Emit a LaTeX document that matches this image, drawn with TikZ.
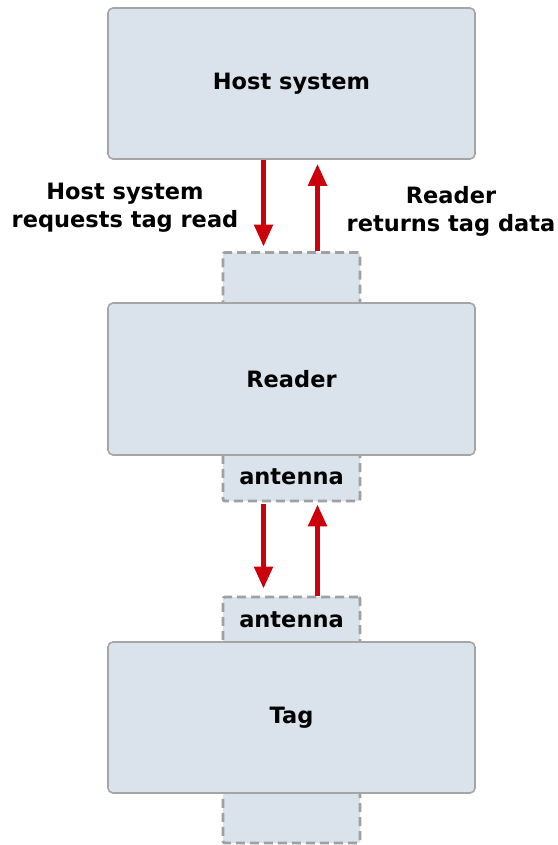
\documentclass[tikz,border=0pt]{standalone}
\usepackage{fontspec}
\setmainfont{DejaVu Sans}
\usetikzlibrary{arrows.meta}
\definecolor{boxfill}{RGB}{218,227,236}
\definecolor{boxline}{RGB}{165,165,165}
\definecolor{dashline}{RGB}{160,160,160}
\definecolor{arrred}{RGB}{204,0,10}
\begin{document}
\begin{tikzpicture}[x=1pt,y=-1pt,
  mainbox/.style={draw=boxline,line width=1.6pt,fill=boxfill,rounded corners=5pt,
    minimum width=367pt,minimum height=151pt,inner sep=0pt,
    font=\fontsize{22.5}{28}\selectfont\bfseries},
  dashbox/.style={draw=dashline,line width=2.8pt,fill=boxfill,dash pattern=on 9pt off 5pt,
    rounded corners=2pt,minimum width=137pt,inner sep=0pt},
  lbl/.style={inner sep=0pt,align=center,font=\fontsize{22.5}{28}\selectfont\bfseries},
  arr/.style={draw=arrred,line width=5pt,-{Triangle[width=18pt,length=22pt]}}]
\useasboundingbox (0,0) rectangle (557,845);
% dashed antenna boxes (behind)
\node[dashbox,minimum height=68pt] (rtop) at (291.5,286.5) {};
\node[dashbox,minimum height=66pt] (rant) at (291.5,468) {};
\node[dashbox,minimum height=66pt] (tant) at (291.5,630) {};
\node[dashbox,minimum height=64pt] (tbot) at (291.5,811) {};
% main boxes
\node[mainbox] (host) at (291.5,83.5) {Host system};
\node[mainbox,minimum height=152pt] (reader) at (291.5,379) {Reader};
\node[mainbox] (tag) at (291.5,717.5) {Tag};
% antenna labels
\node[lbl] (rantl) at (291.5,477) {antenna};
\node[lbl] (tantl) at (291.5,620) {antenna};
% arrows host <-> reader
\draw[arr,shorten >=4.5pt] ([xshift=-28pt]host.south) -- ([xshift=-28pt]rtop.north);
\draw[arr,shorten >=4pt] ([xshift=26pt]rtop.north) -- ([xshift=26pt]host.south);
% arrows reader antenna <-> tag antenna
\draw[arr,shorten <=2pt,shorten >=7pt] ([xshift=-28pt]rant.south) -- ([xshift=-28pt]tant.north);
\draw[arr,shorten >=2pt] ([xshift=26pt]tant.north) -- ([xshift=26pt]rant.south);
% side labels
\node[lbl] (reqlbl) at (125,208) {Host system\\requests tag read};
\node[lbl] (retlbl) at (451,211) {Reader\\returns tag data};
\end{tikzpicture}
\end{document}
